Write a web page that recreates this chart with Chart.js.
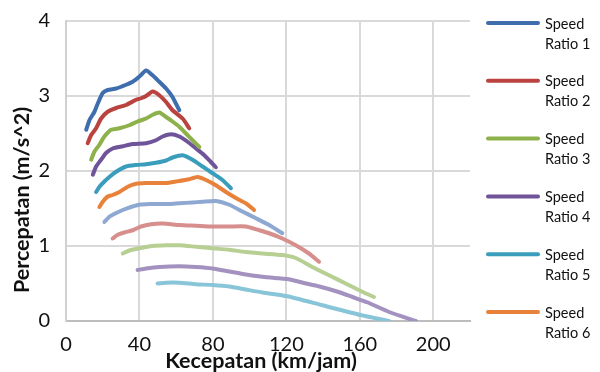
<!DOCTYPE html>
<html>
<head>
<meta charset="utf-8">
<script src="https://cdn.jsdelivr.net/npm/chart.js@4.4.1/dist/chart.umd.min.js"></script>
<style>
  html, body { margin: 0; padding: 0; background: #ffffff; }
  #wrap { width: 600px; height: 372px; position: relative; }
</style>
</head>
<body>
<div id="wrap"><canvas id="chart" width="600" height="372"></canvas></div>
<script>
// Acceleration vs. speed curves for each speed ratio
const seriesNames = [
  'Speed Ratio 1', 'Speed Ratio 2', 'Speed Ratio 3', 'Speed Ratio 4',
  'Speed Ratio 5', 'Speed Ratio 6', 'Speed Ratio 7', 'Speed Ratio 8',
  'Speed Ratio 9', 'Speed Ratio 10', 'Speed Ratio 11'
];

// Kecepatan (km/jam) and percepatan (m/s^2) per ratio
const speed1 = [11.0, 12.8, 15.5, 17.3, 20.0, 22.7, 27.3, 32.7, 36.3, 40.0, 43.6, 47.0, 50.8, 54.5, 57.9, 61.7];
const accel1 = [2.55, 2.68, 2.79, 2.90, 3.04, 3.08, 3.10, 3.15, 3.19, 3.26, 3.34, 3.28, 3.19, 3.10, 2.99, 2.81];

const speed2 = [11.8, 13.7, 16.4, 19.1, 22.7, 27.3, 32.7, 38.2, 40.9, 43.6, 47.2, 50.8, 54.5, 58.0, 63.5, 67.1];
const accel2 = [2.37, 2.48, 2.57, 2.70, 2.79, 2.84, 2.88, 2.95, 2.97, 3.00, 3.06, 3.01, 2.92, 2.81, 2.70, 2.57];

const speed3 = [13.7, 15.5, 18.2, 20.9, 24.6, 29.1, 34.5, 39.0, 43.6, 47.2, 50.8, 54.5, 58.0, 61.7, 65.3, 68.9, 72.6];
const accel3 = [2.15, 2.26, 2.35, 2.46, 2.55, 2.57, 2.61, 2.66, 2.70, 2.75, 2.78, 2.72, 2.66, 2.59, 2.50, 2.41, 2.32];

const speed4 = [14.6, 16.4, 19.1, 21.8, 25.4, 30.9, 36.3, 43.6, 49.0, 52.6, 57.2, 61.7, 66.2, 70.8, 75.3, 78.9, 81.6];
const accel4 = [1.95, 2.06, 2.15, 2.24, 2.30, 2.33, 2.36, 2.37, 2.41, 2.46, 2.49, 2.46, 2.39, 2.30, 2.21, 2.12, 2.05];

const speed5 = [16.4, 18.2, 20.9, 23.6, 27.3, 32.7, 38.2, 43.6, 49.0, 54.5, 58.0, 63.5, 68.9, 74.4, 79.8, 85.2, 89.8];
const accel5 = [1.72, 1.79, 1.86, 1.92, 1.99, 2.06, 2.08, 2.09, 2.11, 2.14, 2.18, 2.21, 2.15, 2.06, 1.97, 1.88, 1.77];

const speed6 = [18.2, 20.0, 22.7, 25.4, 29.1, 33.6, 38.2, 43.6, 49.0, 54.5, 59.9, 67.1, 71.6, 76.2, 81.6, 87.1, 92.5, 97.9, 102.4];
const accel6 = [1.52, 1.59, 1.66, 1.68, 1.72, 1.79, 1.83, 1.84, 1.84, 1.84, 1.86, 1.89, 1.92, 1.88, 1.81, 1.72, 1.64, 1.57, 1.48];

const speed7 = [20.9, 23.6, 27.3, 30.9, 35.4, 39.9, 45.4, 50.8, 56.3, 61.7, 68.9, 74.3, 81.6, 88.9, 96.1, 103.4, 110.6, 117.8];
const accel7 = [1.32, 1.39, 1.44, 1.48, 1.52, 1.55, 1.56, 1.56, 1.56, 1.57, 1.58, 1.59, 1.60, 1.55, 1.46, 1.37, 1.28, 1.17];

const speed8 = [25.4, 28.2, 31.8, 36.3, 40.9, 46.3, 52.6, 61.7, 70.8, 79.8, 88.9, 97.9, 105.2, 110.6, 117.8, 125.1, 132.3, 137.8];
const accel8 = [1.10, 1.15, 1.18, 1.21, 1.26, 1.29, 1.30, 1.28, 1.27, 1.26, 1.26, 1.26, 1.21, 1.17, 1.10, 1.01, 0.90, 0.79];

const speed9 = [30.9, 34.5, 39.9, 47.2, 54.5, 61.7, 70.8, 79.8, 88.9, 97.9, 107.0, 117.8, 125.1, 134.1, 143.2, 152.3, 161.3, 167.7];
const accel9 = [0.90, 0.94, 0.97, 1.00, 1.01, 1.01, 0.99, 0.97, 0.95, 0.92, 0.90, 0.88, 0.84, 0.72, 0.61, 0.50, 0.39, 0.32];

const speed10 = [39.0, 43.6, 50.8, 61.7, 70.8, 79.8, 88.9, 97.9, 107.0, 116.0, 120.5, 129.0, 138.0, 148.0, 156.0, 164.0, 176.0, 190.5];
const accel10 = [0.68, 0.70, 0.72, 0.73, 0.72, 0.70, 0.66, 0.62, 0.59, 0.57, 0.56, 0.51, 0.46, 0.39, 0.32, 0.25, 0.12, 0.00];

const speed11 = [49.9, 54.5, 61.7, 70.8, 79.8, 88.9, 97.9, 107.0, 120.5, 139.6, 160.4, 175.8];
const accel11 = [0.50, 0.51, 0.51, 0.49, 0.48, 0.46, 0.42, 0.38, 0.33, 0.21, 0.08, 0.00];

const xTicks = [0, 40, 80, 120, 160, 200];
const yTicks = [0, 1, 2, 3, 4];

const speeds = [speed1, speed2, speed3, speed4, speed5, speed6, speed7, speed8, speed9, speed10, speed11];
const accels = [accel1, accel2, accel3, accel4, accel5, accel6, accel7, accel8, accel9, accel10, accel11];

const lineColors = [
  '#3F6EAF', '#BA433F', '#8DB14B', '#6F549A', '#3A9DBB', '#E8823A',
  '#8EA8D2', '#D68F8D', '#B7CF93', '#A392C0', '#88C5D8'
];

const FONT = 'Lato, "Liberation Sans", sans-serif';
const LEGEND_COUNT = 6;

const datasets = seriesNames.map((name, i) => ({
  label: name,
  data: speeds[i].map((s, k) => ({ x: s, y: accels[i][k] })),
  borderColor: lineColors[i],
  backgroundColor: lineColors[i],
  borderWidth: 4,
  pointRadius: 0,
  pointHoverRadius: 0,
  tension: 0.2,
  borderCapStyle: 'round',
  borderJoinStyle: 'round',
  fill: false
}));

// Two-line legend on the right and the axis titles
const sideDecor = {
  id: 'sideDecor',
  afterDraw(chart) {
    const ctx = chart.ctx;
    ctx.save();
    ctx.textAlign = 'left';
    ctx.textBaseline = 'middle';
    ctx.font = '14.5px ' + FONT;
    const top = 23, step = 57.8;
    for (let i = 0; i < LEGEND_COUNT; i++) {
      const ds = chart.data.datasets[i];
      const y = top + i * step;
      ctx.strokeStyle = ds.borderColor;
      ctx.lineWidth = 4;
      ctx.lineCap = 'round';
      ctx.beginPath();
      ctx.moveTo(488, y);
      ctx.lineTo(538, y);
      ctx.stroke();
      const words = ds.label.split(' ');
      ctx.fillStyle = '#111111';
      ctx.fillText(words[0], 545, y + 1);
      ctx.fillText(words.slice(1).join(' '), 545, y + 21);
    }
    // axis titles
    ctx.fillStyle = '#111111';
    ctx.font = 'bold 21.5px ' + FONT;
    ctx.textAlign = 'center';
    ctx.textBaseline = 'middle';
    ctx.fillText('Kecepatan (km/jam)', 261, 361);
    ctx.translate(22, 200);
    ctx.rotate(-Math.PI / 2);
    ctx.fillText('Percepatan (m/s^2)', 0, 0);
    ctx.restore();
  }
};

new Chart(document.getElementById('chart'), {
  type: 'line',
  data: { datasets },
  plugins: [sideDecor],
  options: {
    responsive: false,
    animation: false,
    events: [],
    layout: { padding: { top: 21, right: 130, bottom: 0, left: 0 } },
    plugins: {
      legend: { display: false },
      tooltip: { enabled: false },
      title: { display: false }
    },
    scales: {
      x: {
        type: 'linear',
        min: 0,
        max: 220,
        afterBuildTicks(scale) {
          scale.ticks = xTicks.map(v => ({ value: v }));
        },
        afterFit(scale) {
          scale.height = 51;
          scale.paddingLeft = 0;
          scale.paddingRight = 0;
        },
        grid: { color: '#D9D9D9', lineWidth: 2, drawTicks: false },
        border: { display: true, color: '#BDBDBD', width: 2 },
        ticks: {
          padding: 12,
          color: '#111111',
          font: { family: FONT, size: 20 },
          maxRotation: 0
        }
      },
      y: {
        type: 'linear',
        min: 0,
        max: 4,
        afterBuildTicks(scale) {
          scale.ticks = yTicks.map(v => ({ value: v }));
        },
        afterFit(scale) {
          scale.width = 66;
          scale.paddingTop = 0;
          scale.paddingBottom = 0;
        },
        grid: { color: '#D9D9D9', lineWidth: 2, drawTicks: false },
        border: { display: true, color: '#D0D0D0', width: 2 },
        ticks: {
          padding: 16,
          color: '#111111',
          font: { family: FONT, size: 20 }
        }
      }
    }
  }
});
</script>
</body>
</html>
